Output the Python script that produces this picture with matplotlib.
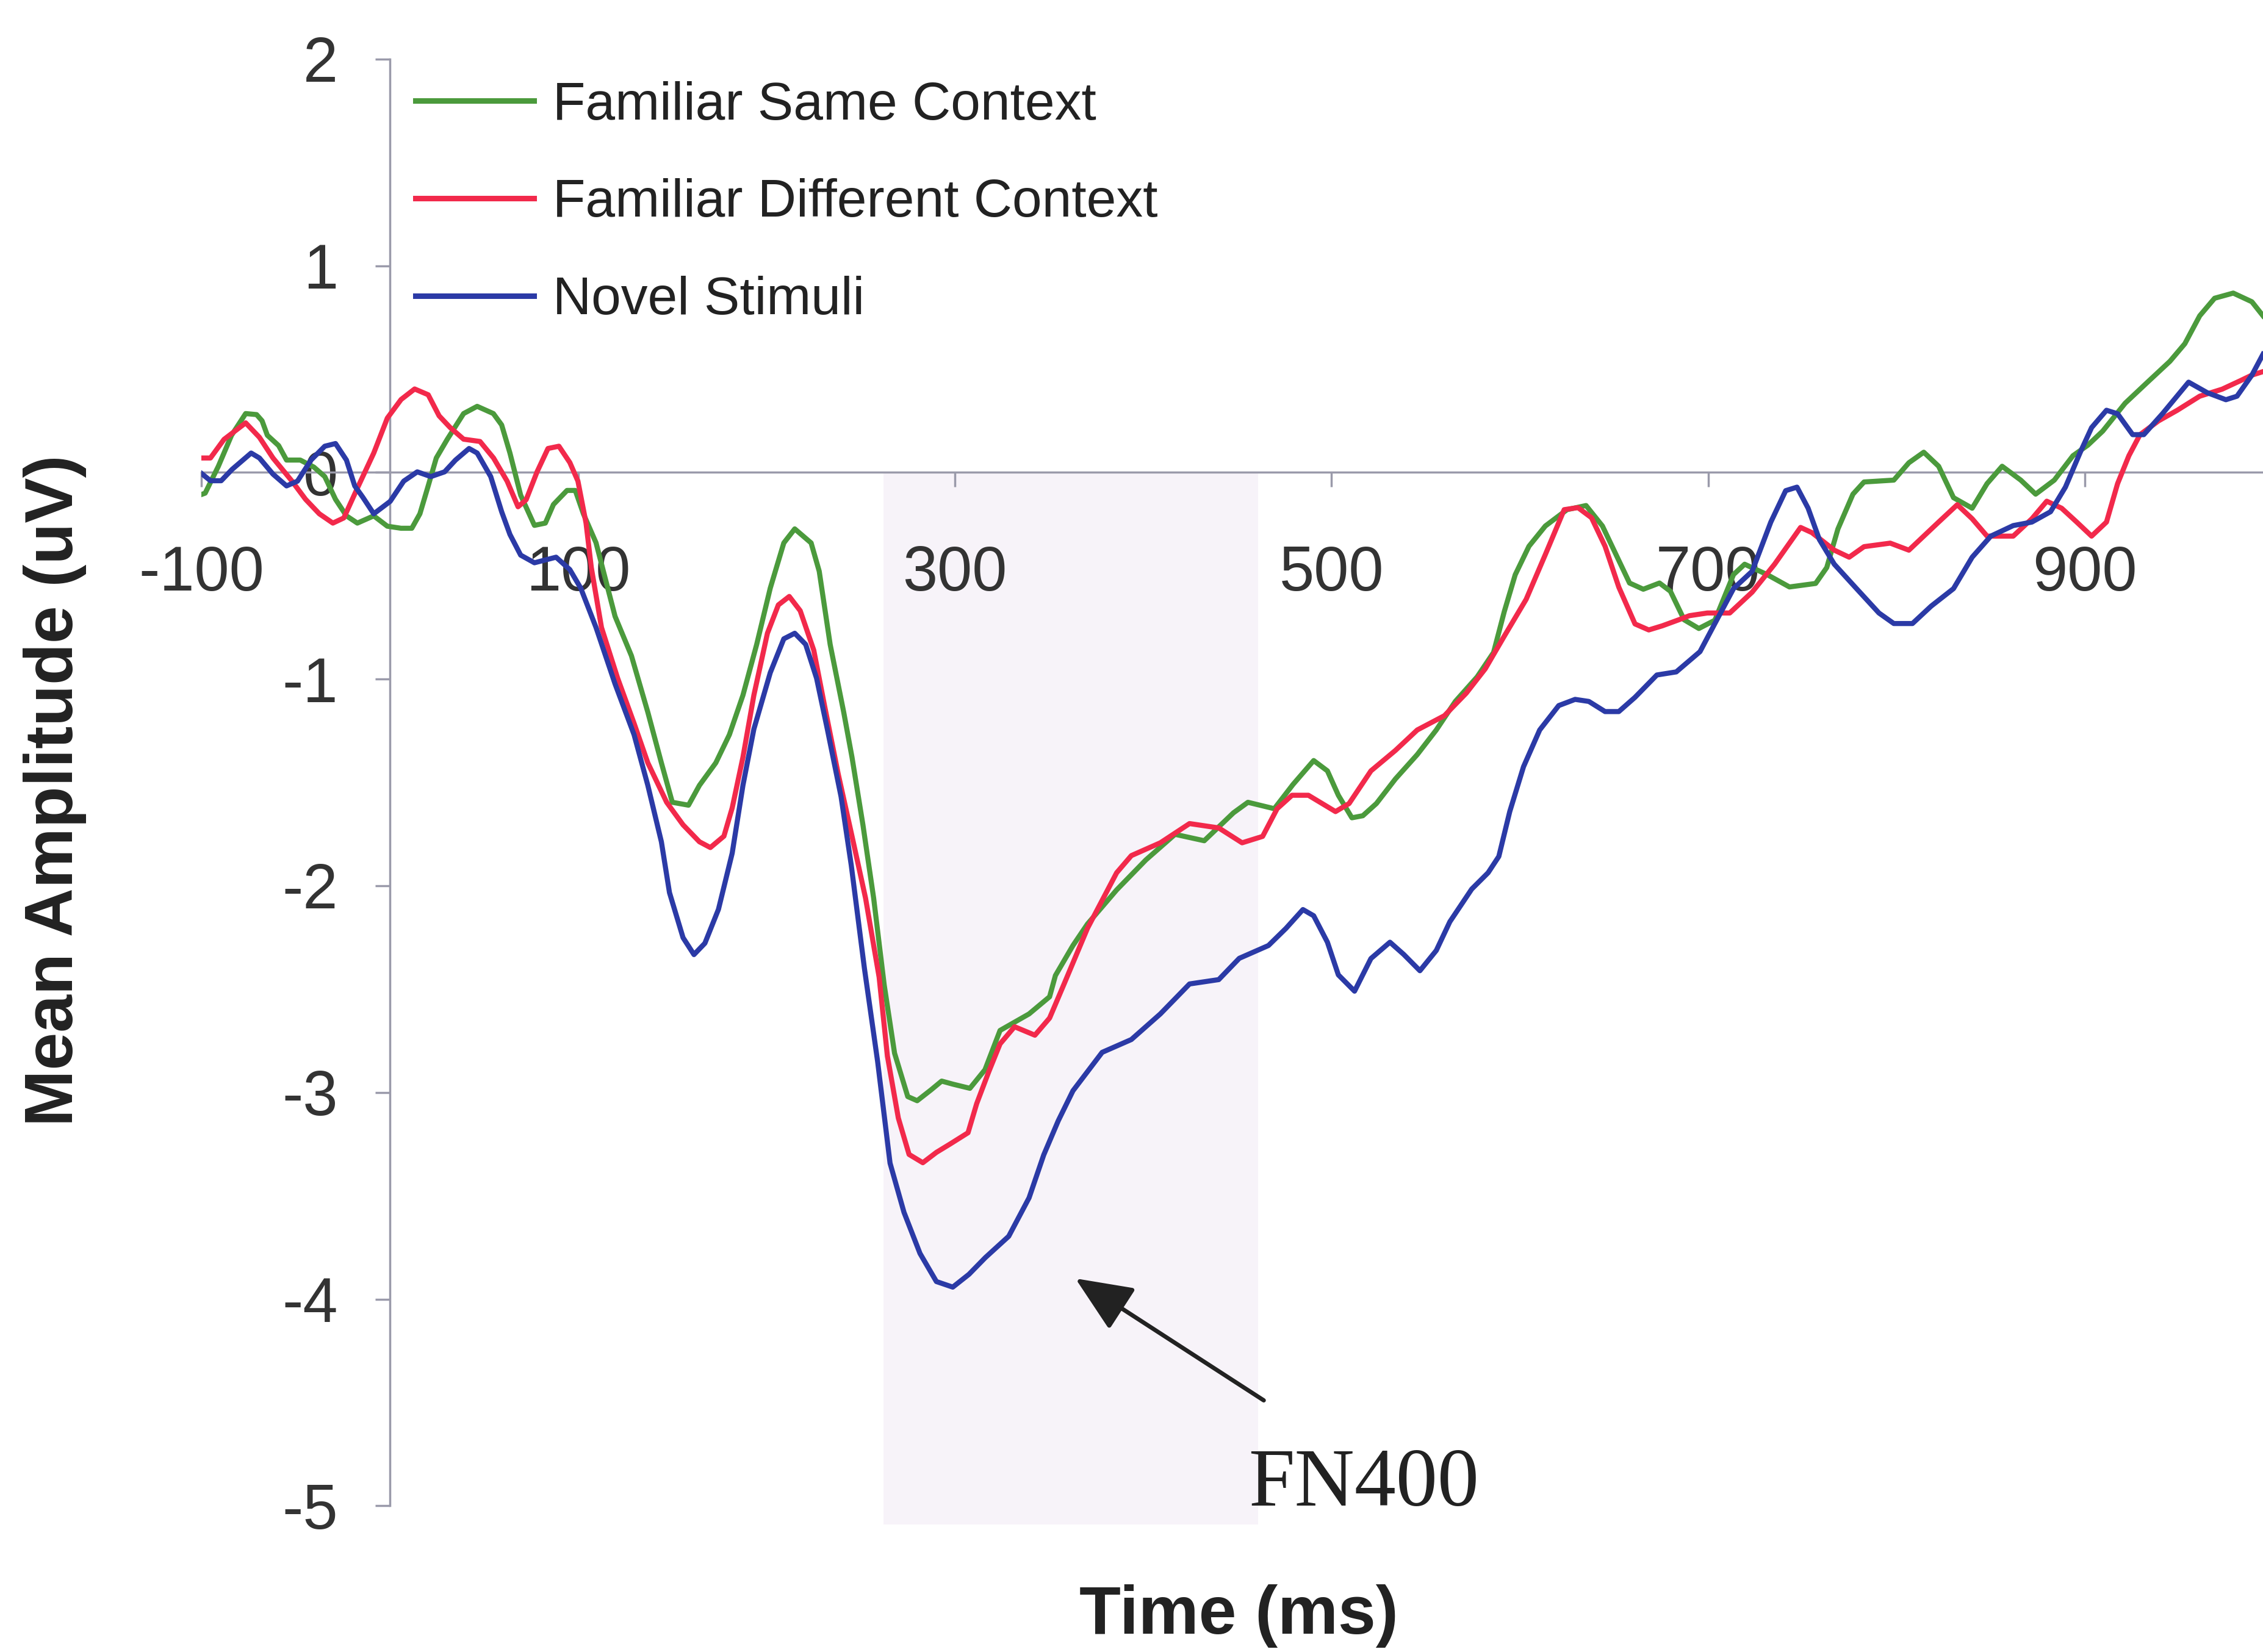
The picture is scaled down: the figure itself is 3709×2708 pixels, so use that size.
import matplotlib
matplotlib.use('Agg')
import matplotlib.pyplot as plt
from matplotlib import font_manager
from matplotlib.lines import Line2D

# ---- data (time in ms, amplitude in uV) ----
t_same = [-101, -98, -91, -84, -76.5, -70.7, -67.8, -65, -59, -54.8, -47.5, -40.3, -34.5, -28.8,
          -23, -17.2, -8.5, -1.3, 6, 11.7, 16, 20.4, 24.7, 30.5, 39.2, 46.4, 55, 59.4, 63.8, 69.5,
          76.8, 82.6, 86.9, 94.1, 98.5, 102.8, 109.5, 119.6, 128.3, 137, 144.2, 150, 158.6, 164.4,
          173.1, 180.3, 187.5, 194.8, 202, 209.2, 215, 223.7, 228, 233.8, 241, 245.4, 251.2, 256.9,
          262.5, 268, 275, 280, 287.3, 293, 299, 308, 316, 324, 339.4, 350.3, 353.4, 362.7, 370.4,
          385.9, 401.4, 416.9, 432.4, 447.9, 455.6, 469.6, 479.5, 490.5, 497.8, 503.6, 510.8, 516.6,
          523.8, 533.9, 545.5, 555.6, 565.7, 577.3, 586, 591.7, 597.5, 604.8, 613.5, 625, 635.1,
          643.8, 651, 658.2, 665.5, 674.1, 679.9, 687.2, 695, 703.5, 713.4, 719.3, 731.2, 743.1,
          757, 762.9, 768.8, 776.8, 782.7, 798.5, 806.5, 814.4, 822.3, 830.2, 840.1, 848, 856,
          865.9, 873.8, 883.7, 893.6, 901.5, 909.4, 921.3, 933.2, 945.1, 953, 960.9, 968.8, 978.7,
          988.6, 994.5]
v_same = [-0.11, -0.10, 0.03, 0.18, 0.285, 0.28, 0.25, 0.18, 0.13, 0.06, 0.06, 0.026, -0.02, -0.13,
          -0.21, -0.245, -0.21, -0.26, -0.27, -0.27, -0.2, -0.065, 0.07, 0.16, 0.285, 0.32, 0.285,
          0.23, 0.094, -0.11, -0.256, -0.245, -0.155, -0.087, -0.087, -0.2, -0.34, -0.696, -0.887,
          -1.16, -1.405, -1.596, -1.61, -1.514, -1.405, -1.269, -1.078, -0.832, -0.56, -0.341,
          -0.273, -0.341, -0.478, -0.832, -1.16, -1.378, -1.705, -2.06, -2.48, -2.81, -3.02, -3.04,
          -2.988, -2.945, -2.96, -2.98, -2.89, -2.70, -2.62, -2.537, -2.434, -2.289, -2.185, -2.02,
          -1.875, -1.751, -1.782, -1.647, -1.596, -1.627, -1.51, -1.394, -1.444, -1.562, -1.671,
          -1.661, -1.602, -1.483, -1.365, -1.246, -1.108, -0.989, -0.871, -0.673, -0.495, -0.357,
          -0.259, -0.18, -0.16, -0.259, -0.397, -0.535, -0.565, -0.535, -0.575, -0.713, -0.755,
          -0.715, -0.494, -0.444, -0.494, -0.554, -0.537, -0.46, -0.274, -0.105, -0.046, -0.037,
          0.047, 0.098, 0.03, -0.122, -0.173, -0.054, 0.03, -0.037, -0.105, -0.037, 0.081, 0.132,
          0.2, 0.335, 0.437, 0.538, 0.623, 0.758, 0.843, 0.868, 0.826, 0.758]

t_diff = [-101, -95.2, -88, -76.5, -69.2, -62, -51.9, -44.7, -37.4, -30.2, -24.4, -17.2, -8.5, -1.3,
          6, 13.2, 20.4, 26.2, 32, 39.2, 47.9, 55.1, 62.3, 68.1, 72.4, 78.2, 84, 89.8, 95.6, 99.9,
          104.2, 107, 112.4, 121, 129.7, 137, 147, 155.7, 164.4, 170.2, 177.4, 181.8, 187.5, 193.3,
          200.5, 206.3, 212.1, 217.9, 225.1, 230.9, 238.1, 245.4, 252.6, 259.8, 264.2, 270, 275.7,
          283, 290.2, 297.4, 307, 311.6, 318, 324, 331.7, 342.5, 350.3, 358, 370.4, 385.9, 393.7,
          409.1, 424.6, 440.1, 452.5, 463.4, 471.1, 479, 487.7, 502.1, 509.3, 520.9, 533.9, 545.5,
          559.9, 571.5, 581.6, 591.7, 603.3, 613.5, 623.5, 630.8, 638, 645.2, 652.5, 661.1, 668.4,
          675.6, 684.3, 690, 699.5, 711.4, 723.3, 735.2, 749, 755, 766.9, 774.8, 782.7, 796.6,
          806.5, 814.4, 822.3, 832.2, 840.1, 848, 861.9, 871.8, 879.7, 887.6, 895.6, 903.5, 911.4,
          917.3, 923.3, 929.2, 939.1, 949, 960.9, 972.8, 982.7, 988.6, 994.5]
v_diff = [0.07, 0.07, 0.16, 0.24, 0.17, 0.07, -0.042, -0.13, -0.2, -0.245, -0.22, -0.076, 0.094,
          0.263, 0.353, 0.404, 0.376, 0.274, 0.218, 0.161, 0.15, 0.07, -0.042, -0.166, -0.132,
          0.003, 0.116, 0.127, 0.048, -0.042, -0.245, -0.46, -0.75, -0.996, -1.214, -1.405, -1.596,
          -1.705, -1.787, -1.815, -1.76, -1.623, -1.378, -1.078, -0.778, -0.641, -0.6, -0.669,
          -0.86, -1.132, -1.46, -1.76, -2.06, -2.442, -2.824, -3.124, -3.3, -3.34, -3.29, -3.25,
          -3.195, -3.054, -2.9, -2.765, -2.682, -2.723, -2.64, -2.475, -2.206, -1.937, -1.854,
          -1.792, -1.699, -1.72, -1.792, -1.761, -1.627, -1.562, -1.562, -1.641, -1.602, -1.444,
          -1.345, -1.246, -1.177, -1.068, -0.95, -0.792, -0.614, -0.397, -0.18, -0.17, -0.219,
          -0.357, -0.555, -0.733, -0.762, -0.742, -0.713, -0.693, -0.68, -0.68, -0.579, -0.444,
          -0.266, -0.291, -0.376, -0.41, -0.359, -0.342, -0.376, -0.308, -0.24, -0.156, -0.224,
          -0.308, -0.308, -0.224, -0.139, -0.173, -0.24, -0.308, -0.24, -0.054, 0.081, 0.183, 0.25,
          0.301, 0.369, 0.403, 0.445, 0.471, 0.488]

t_novel = [-101, -95.2, -89.5, -83.7, -73.6, -69.2, -62, -54.8, -49, -41.8, -34.5, -28.8, -23,
           -18.6, -14.3, -8.5, 0.2, 7.4, 14.6, 21.8, 29.1, 34.9, 42.1, 46.4, 53.6, 59.4, 63.8, 69.5,
           76.8, 88.3, 95.6, 101.4, 109.5, 119.6, 129.7, 137, 144.2, 148.5, 155.7, 161.5, 167.3,
           174.5, 181.8, 187.5, 193.3, 202, 209.2, 215, 220.8, 226.6, 232.3, 239.6, 245, 252, 259,
           265.6, 273, 281.5, 290.2, 298.9, 307.5, 316.2, 328.6, 339.4, 347.2, 354.9, 362.7, 378.2,
           393.7, 409.1, 424.6, 440.1, 451, 466.5, 475.8, 484.8, 490.5, 497.8, 503.6, 512.2, 520.9,
           531, 538.3, 546.9, 555.6, 562.8, 574.4, 583.1, 588.8, 594.6, 601.9, 610.5, 620.6, 629.3,
           636.6, 645.2, 652.5, 661.1, 672.7, 683, 695.6, 703.5, 713.4, 723.3, 733.2, 741.1, 747.1,
           753, 759, 766.9, 778.7, 790.6, 798.5, 808.4, 818.3, 830.2, 840.1, 850, 861.9, 871.8,
           881.7, 889.6, 897.5, 903.5, 911.4, 917.3, 925.3, 931.2, 941.1, 955, 964.9, 974.8, 980.7,
           988.6, 994.5]
v_novel = [0.003, -0.04, -0.04, 0.015, 0.094, 0.07, -0.008, -0.065, -0.042, 0.06, 0.127, 0.14,
           0.06, -0.065, -0.12, -0.2, -0.14, -0.042, 0.003, -0.02, 0.003, 0.06, 0.116, 0.094,
           -0.02, -0.19, -0.3, -0.4, -0.437, -0.41, -0.47, -0.56, -0.75, -1.023, -1.269, -1.514,
           -1.787, -2.033, -2.251, -2.333, -2.278, -2.114, -1.842, -1.514, -1.242, -0.969, -0.805,
           -0.778, -0.832, -0.996, -1.242, -1.569, -1.9, -2.4, -2.85, -3.342, -3.58, -3.779, -3.915,
           -3.942, -3.88, -3.799, -3.696, -3.51, -3.302, -3.137, -2.992, -2.806, -2.744, -2.62,
           -2.475, -2.454, -2.351, -2.289, -2.206, -2.115, -2.145, -2.273, -2.431, -2.51, -2.352,
           -2.273, -2.332, -2.411, -2.313, -2.174, -2.016, -1.937, -1.858, -1.641, -1.424, -1.246,
           -1.128, -1.098, -1.108, -1.157, -1.157, -1.088, -0.98, -0.965, -0.867, -0.731, -0.562,
           -0.478, -0.24, -0.088, -0.071, -0.173, -0.325, -0.444, -0.562, -0.68, -0.731, -0.731,
           -0.647, -0.562, -0.41, -0.308, -0.257, -0.24, -0.19, -0.071, 0.098, 0.217, 0.301, 0.284,
           0.183, 0.183, 0.284, 0.437, 0.386, 0.352, 0.369, 0.471, 0.572]

labels = ['Familiar Same Context', 'Familiar Different Context', 'Novel Stimuli']
xtick_vals = [-100, 100, 300, 500, 700, 900]
ytick_vals = [-5, -4, -3, -2, -1, 0, 1, 2]
fn400_window = (262, 461)  # shaded time window (ms)


if __name__ == "__main__":
    names = {f.name for f in font_manager.fontManager.ttflist}
    narrow = 'Liberation Sans Narrow' in names
    tick_font = 'Liberation Sans Narrow' if narrow else 'Liberation Sans'
    tick_size = 88 if narrow else 74
    plt.rcParams['font.family'] = ['Liberation Sans', 'DejaVu Sans']
    plt.rcParams['axes.unicode_minus'] = False

    fig = plt.figure(figsize=(37.09, 27.08), dpi=100)
    ax = fig.add_axes([0.089, 0.0635, 0.911, 0.9007])
    ax.set_xlim(-100, 994.5)
    ax.set_ylim(-5.2, 2.0)

    # shaded FN400 window
    ax.fill_between(fn400_window, [0, 0], [-5.09, -5.09], color='#f7f3f9',
                    lw=0, zorder=0)

    cols = ['#4b9a3c', '#f2294b', '#2b3aa6']
    for t, v, c in zip([t_same, t_diff, t_novel], [v_same, v_diff, v_novel], cols):
        ax.plot(t, v, color=c, lw=6, solid_joinstyle='round', zorder=3)

    # axes through the origin, Excel style
    axis_col = '#9a9aaa'
    for s in ['top', 'right']:
        ax.spines[s].set_visible(False)
    ax.spines['left'].set_position(('data', 0))
    ax.spines['left'].set_bounds(-5, 2)
    ax.spines['bottom'].set_position(('data', 0))
    for s in ['left', 'bottom']:
        ax.spines[s].set_color(axis_col)
        ax.spines[s].set_linewidth(2.5)
        ax.spines[s].set_zorder(2)

    ax.set_xticks(xtick_vals)
    ax.set_xticklabels([str(x) for x in xtick_vals])
    ax.set_yticks(ytick_vals)
    ax.set_yticklabels([str(y) for y in ytick_vals])
    ax.tick_params(axis='x', direction='out', length=17, width=2.5, color=axis_col,
                   pad=68, labelsize=tick_size, labelcolor='#333333')
    ax.tick_params(axis='y', direction='out', length=17, width=2.5, color=axis_col,
                   pad=44, labelsize=tick_size, labelcolor='#333333')
    for lab in ax.get_xticklabels() + ax.get_yticklabels():
        lab.set_fontfamily(tick_font)

    # legend
    handles = [Line2D([], [], color=c, lw=6.5) for c in cols]
    ax.legend(handles, labels, loc='upper left', bbox_to_anchor=(0.1836, 0.951),
              bbox_transform=fig.transFigure, frameon=False, fontsize=63,
              handlelength=2.22, handletextpad=0.35, labelspacing=0.9,
              borderpad=0, borderaxespad=0, labelcolor='#222222')

    # FN400 arrow + label
    ax.annotate('', xy=(364, -3.90), xytext=(464, -4.49),
                arrowprops=dict(arrowstyle='-|>,head_length=1.15,head_width=0.5',
                                mutation_scale=50, lw=5, color='#222222',
                                shrinkA=0, shrinkB=0), zorder=4)
    ax.text(456, -5.0, 'FN400', family='Liberation Serif', fontsize=98,
            color='#222222', va='baseline', ha='left')

    fig.text(0.0243, 0.5214, 'Mean Amplitude (uV)', rotation=90, ha='center',
             va='center', fontsize=80, fontweight='bold', color='#222222')
    fig.text(0.5473, 0.0218, 'Time (ms)', ha='center', va='center',
             fontsize=80, fontweight='bold', color='#222222')

    fig.savefig('out.png', dpi=100, facecolor='white')
    print('Saved out.png')
